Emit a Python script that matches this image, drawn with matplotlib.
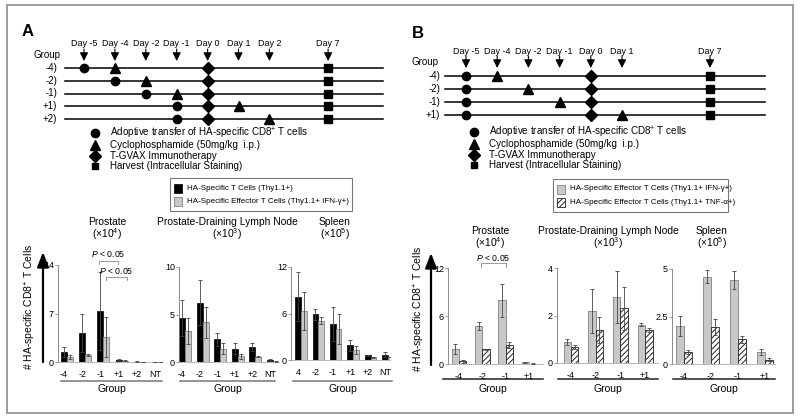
import numpy as np
import matplotlib
matplotlib.use("Agg")
import matplotlib.pyplot as plt
from matplotlib.patches import Rectangle

plt.rcParams['font.family'] = ['Liberation Sans', 'DejaVu Sans']
plt.rcParams['mathtext.fontset'] = 'custom'
plt.rcParams['mathtext.rm'] = 'Liberation Sans'
plt.rcParams['mathtext.it'] = 'Liberation Sans:italic'
plt.rcParams['hatch.linewidth'] = 0.7

# ---- schedule data ----
A_days = [-5, -4, -2, -1, 0, 1, 2, 7]
A_rows = ['-4)', '-2)', '-1)', '+1)', '+2)']
A_transfer = [-5, -4, -2, -1, -1]
A_cyclo = [-4, -2, -1, 1, 2]

B_days = [-5, -4, -2, -1, 0, 1, 7]
B_rows = ['-4)', '-2)', '-1)', '+1)']
B_transfer = [-5, -5, -5, -5]
B_cyclo = [-4, -2, -1, 1]

vaccine_day = 0
harvest_day = 7

legend_items = ['Adoptive transfer of HA-specific CD8$^{+}$ T cells',
                'Cyclophosphamide (50mg/kg  i.p.)',
                'T-GVAX Immunotherapy',
                'Harvest (Intracellular Staining)']

# ---- bar data (A) ----
A_groups = ['-4', '-2', '-1', '+1', '+2', 'NT']
A_spleen_labels = ['4', '-2', '-1', '+1', '+2', 'NT']

A_pro_thy = [1.4, 4.2, 7.4, 0.3, 0.05, 0.03]
A_pro_thy_err = [0.7, 2.7, 5.6, 0.15, 0.03, 0.02]
A_pro_ifn = [0.7, 1.0, 3.6, 0.2, 0.02, 0.01]
A_pro_ifn_err = [0.3, 0.2, 2.9, 0.05, 0.01, 0.01]

A_ln_thy = [4.6, 6.25, 2.37, 1.38, 1.6, 0.25]
A_ln_thy_err = [1.9, 2.35, 0.73, 0.57, 0.4, 0.1]
A_ln_ifn = [3.25, 4.17, 1.4, 0.6, 0.53, 0.05]
A_ln_ifn_err = [1.35, 1.63, 0.55, 0.28, 0.05, 0.02]

A_spl_thy = [8.15, 5.9, 4.6, 1.9, 0.6, 0.7]
A_spl_thy_err = [3.15, 0.7, 2.2, 0.7, 0.1, 0.35]
A_spl_ifn = [6.35, 5.05, 4.0, 1.3, 0.35, 0.4]
A_spl_ifn_err = [2.45, 0.45, 1.9, 0.5, 0.05, 0.05]

# ---- bar data (B) ----
B_groups = ['-4', '-2', '-1', '+1']

B_pro_ifn = [1.9, 4.75, 7.95, 0.2]
B_pro_ifn_err = [0.6, 0.45, 2.05, 0.05]
B_pro_tnf = [0.33, 1.85, 2.4, 0.05]
B_pro_tnf_err = [0.15, 0.05, 0.4, 0.02]

B_ln_ifn = [0.87, 2.18, 2.78, 1.61]
B_ln_ifn_err = [0.13, 0.92, 1.1, 0.07]
B_ln_tnf = [0.67, 1.4, 2.3, 1.38]
B_ln_tnf_err = [0.08, 0.55, 0.9, 0.09]

B_spl_ifn = [2.0, 4.6, 4.42, 0.63]
B_spl_ifn_err = [0.53, 0.35, 0.48, 0.16]
B_spl_tnf = [0.63, 1.94, 1.31, 0.23]
B_spl_tnf_err = [0.12, 0.42, 0.18, 0.07]

W, H = 800, 420
fig = plt.figure(figsize=(8, 4.2), dpi=100)
ov = fig.add_axes([0, 0, 1, 1])
ov.set_xlim(0, W)
ov.set_ylim(H, 0)
ov.axis('off')

ov.add_patch(Rectangle((7, 5), 786, 408, fill=False, edgecolor='#8a8a8a', lw=1.2))


def px_rect(x0, ytop, x1, ybot):
    return [x0 / W, 1 - ybot / H, (x1 - x0) / W, (ybot - ytop) / H]


def timeline(days, slots, x0, dx, xl, xr, rows, y0, dy, transfer, cyclo,
             day_y, group_xy, row_x, leg_x, leg_y):
    xpos = {d: x0 + dx * s for d, s in zip(days, slots)}
    for d in days:
        ov.text(xpos[d], day_y, 'Day %d' % d, ha='center', va='center', fontsize=6.5)
        ov.annotate('', xy=(xpos[d], day_y + 17), xytext=(xpos[d], day_y + 5),
                    arrowprops=dict(arrowstyle='-|>,head_width=0.25,head_length=0.5',
                                    color='k', lw=0.8, shrinkA=0, shrinkB=0))
    ov.text(group_xy[0], group_xy[1], 'Group', ha='center', va='center', fontsize=7)
    for i, r in enumerate(rows):
        y = y0 + dy * i
        ov.plot([xl, xr], [y, y], color='k', lw=1.1, zorder=2)
        ov.text(row_x, y, r, ha='right', va='center', fontsize=7)
        ov.plot(xpos[transfer[i]], y, 'o', color='k', ms=6, zorder=3)
        ov.plot(xpos[cyclo[i]], y, '^', color='k', ms=7, zorder=3)
        ov.plot(xpos[vaccine_day], y, 'D', color='k', ms=6.5, zorder=3)
        ov.plot(xpos[harvest_day], y, 's', color='k', ms=5.5, zorder=3)
    for j, (m, t) in enumerate(zip(['o', '^', 'D', 's'], legend_items)):
        y = leg_y[j]
        ov.plot(leg_x, y, m, color='k', ms=[6, 7, 6, 5][j])
        ov.text(leg_x + 15, y, t, ha='left', va='center', fontsize=7.1)


timeline(A_days, [0, 1, 2, 3, 4, 5, 6, 7.9], 84, 30.9, 65, 383, A_rows, 68, 12.75,
         A_transfer, A_cyclo, 44, (47, 55), 57, 95, [133, 145, 156, 166])
timeline(B_days, [0, 1, 2, 3, 4, 5, 7.82], 466, 31.2, 445, 765, B_rows, 76, 13.1,
         B_transfer, B_cyclo, 51, (425, 62), 440, 474, [132, 144, 155, 165])

ov.text(28, 32, 'A', ha='center', va='center', fontsize=12, fontweight='bold')
ov.text(418, 34, 'B', ha='center', va='center', fontsize=12, fontweight='bold')

# bar legends
black_style = dict(facecolor='black', edgecolor='black', lw=0.5)
grey_style = dict(facecolor='#c8c8c8', edgecolor='#808080', lw=0.6)
hatch_style = dict(facecolor='white', edgecolor='#222222', lw=0.6, hatch='//////')


def bar_legend(x0, y0, x1, y1, entries):
    ov.add_patch(Rectangle((x0, y0), x1 - x0, y1 - y0, fill=False, edgecolor='#777', lw=0.8))
    for k, (st, t) in enumerate(entries):
        y = y0 + 10 + 13.5 * k
        ov.add_patch(Rectangle((x0 + 4, y - 4.5), 8, 9, **st))
        ov.text(x0 + 17, y, t, ha='left', va='center', fontsize=5.8)


bar_legend(170, 178, 352, 211, [(black_style, 'HA-Specific T Cells (Thy1.1+)'),
                                (grey_style, 'HA-Specific Effector T Cells (Thy1.1+ IFN-γ+)')])
bar_legend(553, 179, 728, 212, [(grey_style, 'HA-Specific Effector T Cells (Thy1.1+ IFN-γ+)'),
                                (hatch_style, 'HA-Specific Effector T Cells (Thy1.1+ TNF-α+)')])

# titles
for x, y, t, e in [(107, 222, 'Prostate', 4), (227, 222, 'Prostate-Draining Lymph Node', 3),
                   (335, 222, 'Spleen', 5), (490, 231, 'Prostate', 4),
                   (608, 231, 'Prostate-Draining Lymph Node', 3), (712, 231, 'Spleen', 5)]:
    ov.text(x, y, t, ha='center', va='center', fontsize=7.4)
    ov.text(x, y + 12, '(×10$^{%d}$)' % e, ha='center', va='center', fontsize=7.4)

# y-labels and arrows
for x_lab, x_arr, yb, yt in [(30, 43, 362, 252), (419, 431, 365, 253)]:
    ov.text(x_lab, (yb + yt) / 2, '# HA-specific CD8$^{+}$ T Cells', rotation=90,
            ha='center', va='center', fontsize=7.5)
    ov.annotate('', xy=(x_arr, yt), xytext=(x_arr, yb),
                arrowprops=dict(arrowstyle='-|>,head_width=0.35,head_length=0.9',
                                color='k', lw=1.6, shrinkA=0, shrinkB=0))


def bar_panel(rect, xlim, ylim, yticks, yticklabels, labels, v1, e1, v2, e2,
              st1, st2, width, tick_shift, uline, group_y):
    ax = fig.add_axes(px_rect(*rect))
    x = np.arange(len(labels))
    ax.bar(x - width / 2, v1, width, **st1, zorder=2)
    ax.bar(x + width / 2, v2, width, **st2, zorder=2)
    ax.errorbar(x - width / 2, v1, yerr=e1, fmt='none', ecolor='#444', elinewidth=0.6,
                capsize=1.5, capthick=0.6, zorder=3)
    ax.errorbar(x + width / 2, v2, yerr=e2, fmt='none', ecolor='#444', elinewidth=0.6,
                capsize=1.5, capthick=0.6, zorder=3)
    ax.set_xlim(*xlim)
    ax.set_ylim(*ylim)
    ax.set_yticks(yticks)
    ax.set_yticklabels(yticklabels)
    ax.set_xticks(x + tick_shift)
    ax.set_xticklabels(labels)
    ax.patch.set_alpha(0)
    for s in ['top', 'right']:
        ax.spines[s].set_visible(False)
    ax.spines['left'].set_color('#777')
    ax.spines['left'].set_linewidth(0.6)
    ax.spines['bottom'].set_color('#999')
    ax.spines['bottom'].set_linewidth(0.6)
    ax.spines['bottom'].set_linestyle((0, (1, 1.5)))
    ax.tick_params(axis='y', length=2, width=0.5, color='#777', labelsize=6.5, pad=1)
    ax.tick_params(axis='x', length=0, labelsize=6.5, pad=6)
    ov.plot([uline[0], uline[1]], [uline[2], uline[2]], color=uline[3], lw=1.1)
    ov.text((uline[0] + uline[1]) / 2, group_y, 'Group', ha='center', va='center', fontsize=7.5)
    return ax


def bracket(ax, xa, xb, y, drop, ytext):
    ax.plot([xa, xa, xb, xb], [y - drop, y, y, y - drop], color='#888', lw=0.6, clip_on=False)
    ax.text((xa + xb) / 2, ytext, '$P$ < 0.05', ha='center', va='center', fontsize=6.3, clip_on=False)


ax = bar_panel((58, 265, 162, 362), (-0.475, 5.2), (0, 14), [0, 7, 14], ['0', '7', '14'],
               A_groups, A_pro_thy, A_pro_thy_err, A_pro_ifn, A_pro_ifn_err,
               black_style, grey_style, 0.32, -0.16, (61, 162, 381, '#777'), 389)
bracket(ax, 1.75, 2.8, 14.6, 0.5, 15.6)
bracket(ax, 2.15, 3.3, 12.3, 0.5, 13.2)

bar_panel((179, 267, 278, 362), (-0.34, 5.28), (0, 10), [0, 5, 10], ['0', '5', '10'],
          A_groups, A_ln_thy, A_ln_thy_err, A_ln_ifn, A_ln_ifn_err,
          black_style, grey_style, 0.34, -0.17, (180, 275, 381, '#777'), 389)

bar_panel((291, 267, 390, 360), (-0.57, 5.12), (0, 12), [0, 6, 12], ['0', '6', '12'],
          A_spleen_labels, A_spl_thy, A_spl_thy_err, A_spl_ifn, A_spl_ifn_err,
          black_style, grey_style, 0.33, -0.16, (293, 392, 381, '#777'), 389)

ax = bar_panel((448, 268, 543, 364), (-0.47, 3.6), (0, 12), [0, 6, 12], ['0', '6', '12'],
               B_groups, B_pro_ifn, B_pro_ifn_err, B_pro_tnf, B_pro_tnf_err,
               grey_style, hatch_style, 0.32, 0.0, (443, 543, 379, '#222'), 389)
bracket(ax, 0.94, 2.02, 12.6, 0.5, 13.2)

bar_panel((557, 268, 658, 363), (-0.57, 3.52), (0, 4), [0, 2, 4], ['0', '2', '4'],
          B_groups, B_ln_ifn, B_ln_ifn_err, B_ln_tnf, B_ln_tnf_err,
          grey_style, hatch_style, 0.3, 0.0, (558, 658, 379, '#222'), 389)

bar_panel((672, 269, 775, 364), (-0.44, 3.37), (0, 5), [0, 2.5, 5], ['0', '2.5', '5'],
          B_groups, B_spl_ifn, B_spl_ifn_err, B_spl_tnf, B_spl_tnf_err,
          grey_style, hatch_style, 0.3, 0.0, (673, 775, 379, '#222'), 389)

fig.savefig('out.png', dpi=100)
